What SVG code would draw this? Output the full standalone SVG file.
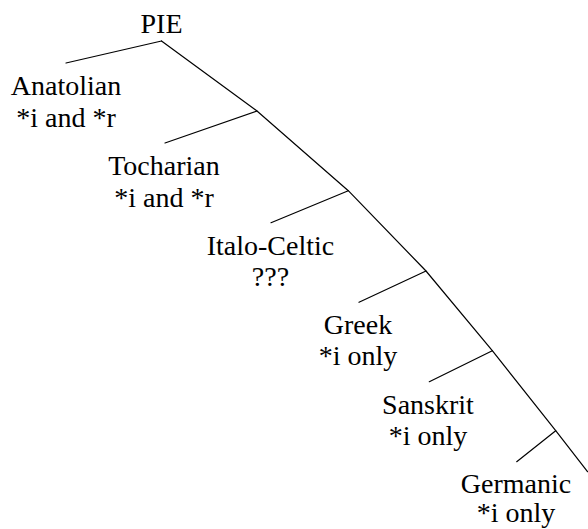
<svg xmlns="http://www.w3.org/2000/svg" width="588" height="529" viewBox="0 0 588 529">
<style>
text{font-family:"Liberation Serif","Times New Roman","DejaVu Serif",serif;font-size:28px;fill:#000;text-anchor:middle}
.e{stroke:#000;stroke-width:1.2;fill:none;stroke-linecap:round}
</style>
<rect width="588" height="529" fill="#fff"/>
<g id="connectors">
<line class="e" x1="161.5" y1="41" x2="66" y2="63"/>
<polyline class="e" points="161.5,41 257,111 348.3,190.7 426,271 492.3,350.7 555.7,430.7 587.5,471.7"/>
<line class="e" x1="257" y1="111" x2="165" y2="143"/>
<line class="e" x1="348.3" y1="190.7" x2="271" y2="222.7"/>
<line class="e" x1="426" y1="271" x2="359" y2="302.3"/>
<line class="e" x1="492.3" y1="350.7" x2="429.3" y2="381.7"/>
<line class="e" x1="555.7" y1="430.7" x2="516.7" y2="461.7"/>
</g>
<g id="PIE"><text x="161.5" y="33">PIE</text></g>
<g id="Anatolian"><text x="66" y="95">Anatolian</text><text x="66" y="127">*i and *r</text></g>
<g id="Tocharian"><text x="164" y="175">Tocharian</text><text x="164" y="207">*i and *r</text></g>
<g id="ItaloCeltic"><text x="270.5" y="255">Italo-Celtic</text><text x="270.5" y="286">???</text></g>
<g id="Greek"><text x="358" y="334">Greek</text><text x="358" y="365">*i only</text></g>
<g id="Sanskrit"><text x="428" y="414">Sanskrit</text><text x="428" y="445">*i only</text></g>
<g id="Germanic"><text x="516" y="493">Germanic</text><text x="516" y="522">*i only</text></g>
</svg>
